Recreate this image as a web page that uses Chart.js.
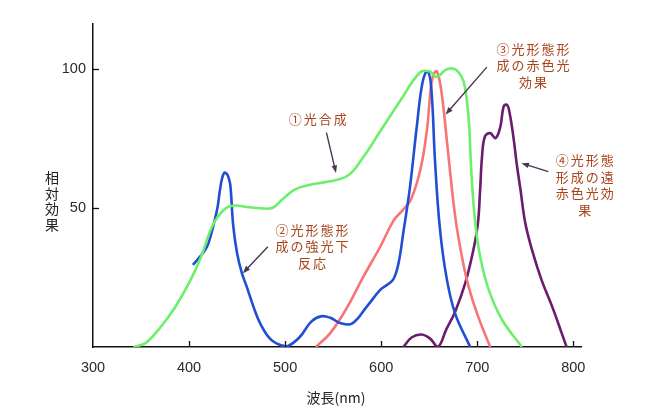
<!DOCTYPE html>
<html>
<head>
<meta charset="utf-8">
<script src="https://cdn.jsdelivr.net/npm/chart.js@4"></script>
<style>
  html, body { margin: 0; padding: 0; background: #fff; }
  #wrap { width: 660px; height: 420px; }
</style>
</head>
<body>
<div id="wrap"><canvas id="actionChart"></canvas></div>
<script>
// wavelength (nm) and relative effect
const greenNm  = [342, 355, 370, 385, 400, 412, 425, 437, 447, 460, 475, 487, 497, 510, 525, 545, 565, 580, 600, 620, 640, 650, 658, 667, 675, 681, 686, 689, 691.5, 693, 695, 698, 703, 712, 726, 746.5];
const greenVal = [0, 1.5, 7, 14, 23, 32, 44, 49.5, 50.8, 50.3, 49.8, 50, 53, 56.5, 58.2, 59.4, 61.5, 67.5, 78, 88.5, 98.5, 99, 97, 99.5, 100, 98.5, 95, 89, 80, 68.5, 56.5, 44.5, 32.5, 20.5, 9.7, 0];

const blueNm  = [404, 415, 420, 429, 432, 434, 436.5, 439, 441, 443, 446, 450, 455, 460, 467, 474, 484, 495, 503, 515, 527, 537, 547, 558, 570, 585, 599, 607, 613, 618, 623, 630, 637, 643, 648, 652, 656, 661, 668, 677, 692.7];
const blueVal = [29.5, 34, 37, 49, 56, 60, 62.5, 62.3, 61, 58, 43.5, 33.7, 26.5, 21.7, 14.5, 8.5, 3.1, 0.7, 0.4, 3.5, 9, 11, 10.5, 8.5, 8.5, 14.5, 20.5, 22.5, 24.5, 30, 41, 57.5, 79, 95, 99, 93.5, 67, 43, 25, 12, 0];

const redNm  = [532, 547, 565, 581, 599, 613, 622, 631, 641, 648, 651, 654, 658, 663, 669, 677, 684, 691, 701, 713.5];
const redVal = [0, 5, 14.5, 25, 36, 45.5, 49, 53, 64, 79, 91, 97.5, 99, 91, 72, 47, 32.5, 21.7, 10.9, 0];

const purpleNm  = [623, 632, 642, 651, 659, 668, 677, 687.5, 696, 700.7, 703, 705, 708, 713.5, 719, 724, 727.5, 731, 733.7, 738, 741, 745, 750, 757, 767, 778, 788, 793];
const purpleVal = [0, 3.5, 4.5, 3, 0, 6.5, 12.7, 22.9, 34.9, 44.5, 56.5, 68.5, 75.6, 76.8, 75, 79, 86.4, 87, 84, 74.5, 66, 56.5, 44.5, 34.9, 24, 14.5, 4.9, 0];

const xTicks = [300, 400, 500, 600, 700, 800];
const yTicks = [50, 100];

const lineColors = { green: '#6cf06c', blue: '#1f4fd2', red: '#f97474', purple: '#6a1c6e' };

// annotation texts placed in data units [nm, value], arrows from -> to
const notes = [
  { lines: ['①光合成'], at: [534, 82], arrow: [[543, 77], [553, 62.5]] },
  { lines: ['②光形態形', '成の強光下', '反応'], at: [528, 42], arrow: [[482, 36], [456, 26.5]] },
  { lines: ['③光形態形', '成の赤色光', '効果'], at: [758, 107], arrow: [[710, 100.5], [667, 83.5]] },
  { lines: ['④光形態', '形成の遠', '赤色光効', '果'], at: [812, 67], arrow: [[774, 63], [746, 66]] }
];

function pts(xs, ys) {
  return xs.map((x, i) => ({ x: x, y: ys[i] }));
}

function series(label, xs, ys, color) {
  return {
    label: label,
    data: pts(xs, ys),
    borderColor: color,
    borderWidth: 2.6,
    pointRadius: 0,
    fill: false,
    tension: 0.4
  };
}

const annotate = {
  id: 'annotate',
  afterDraw(chart) {
    const ctx = chart.ctx;
    const xs = chart.scales.x, ys = chart.scales.y;
    const area = chart.chartArea;
    ctx.save();

    // inward tick marks
    ctx.strokeStyle = '#111';
    ctx.lineWidth = 1.3;
    xTicks.slice(1).forEach(v => {
      const px = Math.round(xs.getPixelForValue(v)) + 0.5;
      ctx.beginPath();
      ctx.moveTo(px, area.bottom);
      ctx.lineTo(px, area.bottom - 6);
      ctx.stroke();
    });
    yTicks.forEach(v => {
      const py = Math.round(ys.getPixelForValue(v)) + 0.5;
      ctx.beginPath();
      ctx.moveTo(area.left, py);
      ctx.lineTo(area.left + 6, py);
      ctx.stroke();
    });

    // axis titles
    ctx.fillStyle = '#222';
    ctx.font = '14px "Noto Sans CJK JP"';
    ctx.textAlign = 'center';
    ctx.textBaseline = 'middle';
    ['相', '対', '効', '果'].forEach((c, i) => ctx.fillText(c, 52, 178 + i * 15.5));
    ctx.fillText('波長(nm)', 336, 398);

    // notes
    ctx.fillStyle = '#a8441a';
    ctx.font = '13px "Noto Sans CJK JP"';
    ctx.letterSpacing = '2px';
    notes.forEach(n => {
      const cx = xs.getPixelForValue(n.at[0]);
      const cy = ys.getPixelForValue(n.at[1]);
      n.lines.forEach((t, i) => ctx.fillText(t, cx + 1, cy + i * 16.5));
    });
    ctx.letterSpacing = '0px';

    // arrows
    ctx.strokeStyle = '#4b3553';
    ctx.fillStyle = '#4b3553';
    ctx.lineWidth = 1.4;
    notes.forEach(n => {
      const x0 = xs.getPixelForValue(n.arrow[0][0]), y0 = ys.getPixelForValue(n.arrow[0][1]);
      const x1 = xs.getPixelForValue(n.arrow[1][0]), y1 = ys.getPixelForValue(n.arrow[1][1]);
      const a = Math.atan2(y1 - y0, x1 - x0);
      ctx.beginPath();
      ctx.moveTo(x0, y0);
      ctx.lineTo(x1 - 4 * Math.cos(a), y1 - 4 * Math.sin(a));
      ctx.stroke();
      ctx.beginPath();
      ctx.moveTo(x1, y1);
      ctx.lineTo(x1 - 8 * Math.cos(a - 0.35), y1 - 8 * Math.sin(a - 0.35));
      ctx.lineTo(x1 - 8 * Math.cos(a + 0.35), y1 - 8 * Math.sin(a + 0.35));
      ctx.closePath();
      ctx.fill();
    });
    ctx.restore();
  }
};

const ctx = document.getElementById('actionChart').getContext('2d');
const actionChart = new Chart(ctx, {
  type: 'line',
  data: {
    datasets: [
      series('①光合成', greenNm, greenVal, lineColors.green),
      series('②強光下反応', blueNm, blueVal, lineColors.blue),
      series('③赤色光効果', redNm, redVal, lineColors.red),
      series('④遠赤色光効果', purpleNm, purpleVal, lineColors.purple)
    ]
  },
  options: {
    responsive: true,
    maintainAspectRatio: false,
    animation: false,
    layout: { padding: { top: 24, right: 79, left: 0, bottom: 0 } },
    plugins: {
      legend: { display: false },
      tooltip: { enabled: false }
    },
    scales: {
      x: {
        type: 'linear',
        min: 300,
        max: 808,
        afterFit: s => { s.height = 73; },
        afterBuildTicks: s => { s.ticks = xTicks.map(v => ({ value: v })); },
        grid: { display: false, drawTicks: false },
        border: { display: true, color: '#111', width: 1.5 },
        ticks: {
          padding: 12,
          color: '#2a2a2a',
          font: { family: '"Liberation Sans", Arial', size: 14.5 },
          maxRotation: 0
        }
      },
      y: {
        min: 0,
        max: 116,
        afterFit: s => { s.width = 93; },
        afterBuildTicks: s => { s.ticks = yTicks.map(v => ({ value: v })); },
        grid: { display: false, drawTicks: false },
        border: { display: true, color: '#111', width: 1.5 },
        ticks: {
          padding: 7,
          color: '#2a2a2a',
          font: { family: '"Liberation Sans", Arial', size: 14.5 }
        }
      }
    }
  },
  plugins: [annotate]
});
</script>
</body>
</html>
